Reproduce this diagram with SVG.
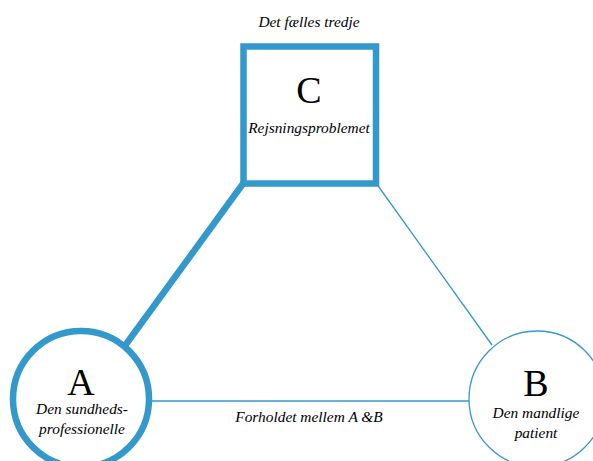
<svg xmlns="http://www.w3.org/2000/svg" width="593" height="461" viewBox="0 0 593 461">
  <style>
    .thick { stroke: #3399cc; stroke-width: 6.5; fill: #ffffff; }
    .thin { stroke: #3399cc; stroke-width: 1.3; fill: #ffffff; }
    .big { font-family: "Liberation Serif", serif; font-size: 38px; fill: #000000; text-anchor: middle; }
    .lbl { font-family: "Liberation Serif", serif; font-style: italic; font-size: 15.4px; fill: #000000; text-anchor: middle; }
  </style>
  <rect width="593" height="461" fill="#ffffff"/>
  <g id="connectors">
    <line class="thick" x1="243.5" y1="183" x2="124" y2="347"/>
    <line class="thin" x1="376" y1="183" x2="492" y2="345"/>
    <line class="thin" x1="150" y1="401" x2="469" y2="401"/>
    <text class="lbl" x="309" y="422">Forholdet mellem A &amp;B</text>
  </g>
  <g id="node-c">
    <rect class="thick" x="243.5" y="46.5" width="132.5" height="137"/>
    <text class="lbl" x="309" y="27">Det fælles tredje</text>
    <text class="big" x="309" y="103">C</text>
    <text class="lbl" x="309" y="133">Rejsningsproblemet</text>
  </g>
  <g id="node-a">
    <circle class="thick" cx="81" cy="399" r="68"/>
    <text class="big" x="81" y="395">A</text>
    <text class="lbl" x="82" y="414">Den sundheds-</text>
    <text class="lbl" x="82" y="434">professionelle</text>
  </g>
  <g id="node-b">
    <circle class="thin" cx="537" cy="399" r="68"/>
    <text class="big" x="536" y="396">B</text>
    <text class="lbl" x="536" y="418">Den mandlige</text>
    <text class="lbl" x="536" y="438">patient</text>
  </g>
</svg>
